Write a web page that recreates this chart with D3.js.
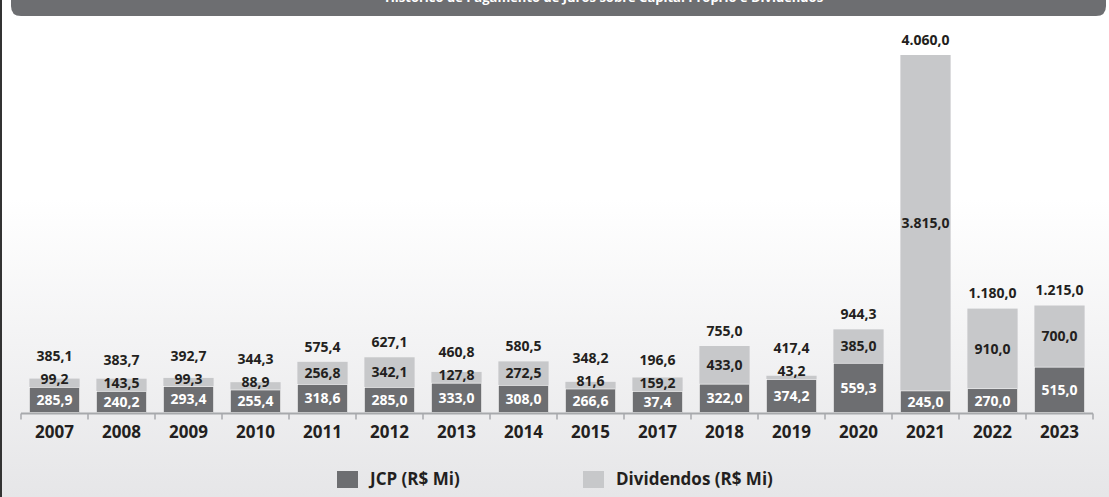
<!DOCTYPE html>
<html>
<head>
<meta charset="utf-8">
<script src="https://cdn.jsdelivr.net/npm/d3@7"></script>
<style>
  html, body { margin: 0; padding: 0; background: #fff; }
  svg { display: block; font-family: "Open Sans", sans-serif; font-weight: 700; }
</style>
</head>
<body>
<div id="chart"></div>
<script>
// data
const years = ['2007','2008','2009','2010','2011','2012','2013','2014','2015','2017','2018','2019','2020','2021','2022','2023'];
const jcp = [285.9,240.2,293.4,255.4,318.6,285.0,333.0,308.0,266.6,37.4,322.0,374.2,559.3,245.0,270.0,515.0];
const dividendos = [99.2,143.5,99.3,88.9,256.8,342.1,127.8,272.5,81.6,159.2,433.0,43.2,385.0,3815.0,910.0,700.0];
const totals = [385.1,383.7,392.7,344.3,575.4,627.1,460.8,580.5,348.2,196.6,755.0,417.4,944.3,4060.0,1180.0,1215.0];
const seriesNames = ['JCP (R$ Mi)', 'Dividendos (R$ Mi)'];
const title = 'Histórico de Pagamento de Juros sobre Capital Próprio e Dividendos';

const width = 1109;
const height = 497;
const darkColour = '#6d6e71';
const lightColour = '#c7c8ca';
const textColour = '#231f20';

// pt-BR number format: 4.060,0
const fmt = d3.formatLocale({ decimal: ',', thousands: '.', grouping: [3], currency: ['R$', ''] }).format(',.1f');

const rows = years.map((y, i) => ({ year: y, jcp: jcp[i], div: dividendos[i], total: totals[i] }));

const svg = d3.select('#chart').append('svg')
  .attr('width', width)
  .attr('height', height);

// background gradient
const grad = svg.append('defs').append('linearGradient')
  .attr('id', 'bg').attr('x1', 0).attr('y1', 0).attr('x2', 0).attr('y2', 1);
grad.append('stop').attr('offset', '0%').attr('stop-color', '#ffffff');
grad.append('stop').attr('offset', '40%').attr('stop-color', '#ffffff');
grad.append('stop').attr('offset', '100%').attr('stop-color', '#e6e6e8');
svg.append('rect').attr('width', width).attr('height', height).attr('fill', 'url(#bg)');

// left border
svg.append('rect').attr('x', 0).attr('y', 0).attr('width', 2).attr('height', height).attr('fill', '#333');

// header bar with rounded bottom corners (title sits mostly above the page, as in the source)
const hx0 = 11, hx1 = 1106, hy = 16, r = 10;
svg.append('path')
  .attr('d', `M${hx0},-5 L${hx1},-5 L${hx1},${hy - r} Q${hx1},${hy} ${hx1 - r},${hy} L${hx0 + r},${hy} Q${hx0},${hy} ${hx0},${hy - r} Z`)
  .attr('fill', darkColour);
svg.append('text')
  .attr('x', 604).attr('y', 2)
  .attr('text-anchor', 'middle')
  .attr('fill', '#fff')
  .style('font-size', '13px')
  .text(title);

// scales
const x = d3.scaleBand()
  .domain(years)
  .range([21, 1093])
  .paddingInner(0.25)
  .paddingOuter(0.125);

const y = d3.scaleLinear()
  .domain([0, d3.max(totals)])
  .range([412.5, 55]);

const minDark = 21; // room for the label inside the JCP segment

rows.forEach(d => {
  d.darkTop = Math.min(y(d.jcp), y(0) - minDark);
  d.lightTop = d.darkTop - (y(0) - y(d.div));
  d.lightLabel = Math.min((d.lightTop + d.darkTop) / 2, d.darkTop - 8);
  d.totalLabel = Math.min(d.lightTop - 15, d.lightLabel - 23);
});

const g = svg.append('g');

// dividend segments
g.selectAll('.div').data(rows).enter().append('rect')
  .attr('x', d => x(d.year))
  .attr('width', x.bandwidth())
  .attr('y', d => d.lightTop)
  .attr('height', d => d.darkTop - d.lightTop)
  .attr('fill', lightColour);

// JCP segments
g.selectAll('.jcp').data(rows).enter().append('rect')
  .attr('x', d => x(d.year))
  .attr('width', x.bandwidth())
  .attr('y', d => d.darkTop)
  .attr('height', d => y(0) - d.darkTop)
  .attr('fill', darkColour)
  .attr('stroke', '#fff')
  .attr('stroke-width', 0.6);

const cx = d => x(d.year) + x.bandwidth() / 2;

g.selectAll('.jcpLabel').data(rows).enter().append('text')
  .attr('x', cx)
  .attr('y', d => (d.darkTop + y(0)) / 2)
  .attr('dy', '0.35em')
  .attr('text-anchor', 'middle')
  .attr('fill', '#fff')
  .style('font-size', '14px')
  .text(d => fmt(d.jcp));

g.selectAll('.divLabel').data(rows).enter().append('text')
  .attr('x', cx)
  .attr('y', d => d.lightLabel)
  .attr('dy', '0.35em')
  .attr('text-anchor', 'middle')
  .attr('fill', textColour)
  .style('font-size', '14px')
  .text(d => fmt(d.div));

g.selectAll('.totLabel').data(rows).enter().append('text')
  .attr('x', cx)
  .attr('y', d => d.totalLabel)
  .attr('dy', '0.35em')
  .attr('text-anchor', 'middle')
  .attr('fill', textColour)
  .style('font-size', '14px')
  .text(d => fmt(d.total));

// x axis: baseline, ticks at band edges, year labels
const axisY = 413.5;
const axisG = svg.append('g');
axisG.append('line')
  .attr('x1', x.range()[0]).attr('x2', x.range()[1])
  .attr('y1', axisY).attr('y2', axisY)
  .attr('stroke', '#a7a9ac').attr('stroke-width', 2);

const step = x.step();
const edges = d3.range(years.length + 1).map(i => x.range()[0] + i * step);
axisG.selectAll('.tick').data(edges).enter().append('line')
  .attr('x1', d => d).attr('x2', d => d)
  .attr('y1', axisY).attr('y2', axisY + 6)
  .attr('stroke', '#a7a9ac').attr('stroke-width', 1.5);

axisG.selectAll('.year').data(years).enter().append('text')
  .attr('x', d => x(d) + x.bandwidth() / 2)
  .attr('y', 432)
  .attr('dy', '0.35em')
  .attr('text-anchor', 'middle')
  .attr('fill', textColour)
  .style('font-size', '17px')
  .text(d => d);

// legend
const legend = svg.append('g');
const legendItems = [
  { name: seriesNames[0], colour: darkColour, x: 337 },
  { name: seriesNames[1], colour: lightColour, x: 583 }
];
legend.selectAll('rect').data(legendItems).enter().append('rect')
  .attr('x', d => d.x).attr('y', 471)
  .attr('width', 21).attr('height', 17)
  .attr('fill', d => d.colour);
legend.selectAll('text').data(legendItems).enter().append('text')
  .attr('x', d => d.x + 33).attr('y', 479.5)
  .attr('dy', '0.35em')
  .attr('fill', textColour)
  .style('font-size', '17px')
  .text(d => d.name);
</script>
</body>
</html>
